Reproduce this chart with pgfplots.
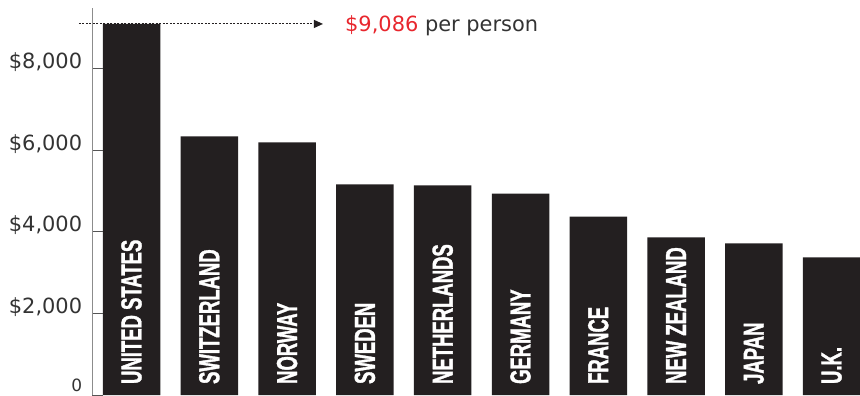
\documentclass[border=0pt]{standalone}
\usepackage{fontspec}
\setmainfont{DejaVu Sans}
\newfontfamily\labelfont[FakeStretch=0.64,BoldFeatures={FakeStretch=0.64,FakeBold=1.2}]{Liberation Sans}
\usepackage{pgfplots}
\pgfplotsset{compat=1.18}
\usetikzlibrary{arrows.meta}
\definecolor{barblack}{HTML}{231F20}
\definecolor{annored}{HTML}{E8262D}
\definecolor{txtgray}{HTML}{333333}
\definecolor{axisgray}{HTML}{8C8C8C}
\definecolor{tickgray}{HTML}{555555}
\begin{document}
\begin{tikzpicture}[x=1bp,y=1bp]
\useasboundingbox (0,0) rectangle (860,395);
\begin{axis}[
  at={(92.3bp,-0.1bp)}, anchor=south west,
  scale only axis, width=767.7bp, height=386.8bp,
  xmin=-0.504, xmax=9.364, ymin=0, ymax=9469,
  clip=false, axis on top,
  ybar, bar width=0.739,
  axis y line=left, axis x line=bottom,
  y axis line style={-, draw=axisgray, line width=1.4bp},
  x axis line style={-, draw=none},
  tick align=inside,
  xtick={0,1,2,3,4,5,6,7,8,9},
  xticklabels={UNITED STATES,SWITZERLAND,NORWAY,SWEDEN,NETHERLANDS,GERMANY,FRANCE,NEW ZEALAND,JAPAN,U.K.},
  x tick style={draw=none},
  xticklabel style={yshift=11bp, rotate=90, anchor=west, inner sep=0pt, text=white,
    font=\labelfont\bfseries\fontsize{29}{29}\selectfont},
  ytick={2000,4000,6000,8000},
  yticklabels={{\$2,000},{\$4,000},{\$6,000},{\$8,000}},
  y tick style={draw=tickgray, line width=0.9bp},
  major tick length=10.4bp,
  yticklabel style={anchor=base east, inner sep=0pt, xshift=-10bp, text=txtgray,
    font=\fontsize{21}{21}\selectfont},
  extra y ticks={0},
  extra y tick labels={0},
  extra y tick style={tick style={draw=none}, yticklabel style={yshift=3.5bp, font=\fontsize{17}{17}\selectfont}},
]
\addplot[fill=barblack, draw=none] coordinates {
  (0,9086) (1,6335) (2,6188) (3,5160) (4,5136) (5,4930) (6,4367) (7,3862) (8,3716) (9,3373)
};
\draw[barblack, line width=1bp, dash pattern=on 2bp off 1.5bp, -{Triangle[length=9bp,width=8bp]}]
  (axis cs:-0.675,9086) -- (axis cs:2.461,9086);
\node[anchor=base west, inner sep=0pt, font=\fontsize{21}{21}\selectfont]
  at (axis cs:2.744,8900) {\textcolor{annored}{\$9,086} \textcolor{txtgray}{per person}};
\end{axis}
\end{tikzpicture}
\end{document}
